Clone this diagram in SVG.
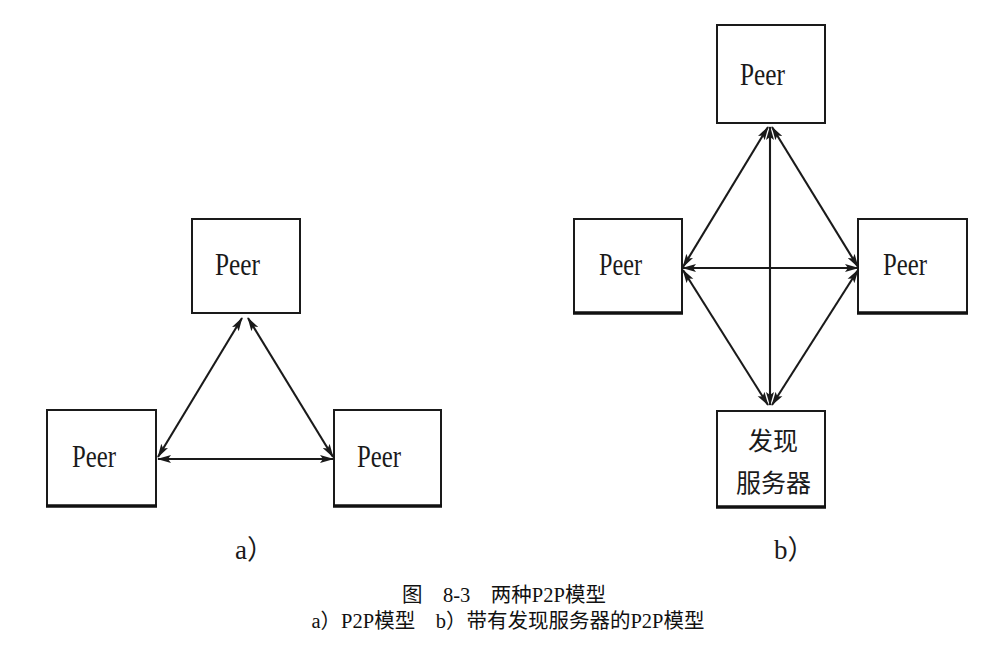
<svg xmlns="http://www.w3.org/2000/svg" width="1003" height="653" viewBox="0 0 1003 653">
<style>
.box{fill:#fff;stroke:#1a1a1a;stroke-width:2}
.base{stroke:#111;stroke-width:3.4}
.peer{font-family:"Liberation Serif",serif;font-size:31px;fill:#1a1a1a}
.cjk{font-family:"Noto Sans CJK SC",sans-serif;font-size:25px;fill:#1a1a1a}
.lbl{font-family:"Liberation Serif","Noto Sans CJK SC",serif;font-size:27px;fill:#1a1a1a}
.cap{font-family:"Liberation Serif","Noto Sans CJK SC",serif;font-size:20.5px;fill:#111}
.con line{stroke:#1a1a1a;stroke-width:2.1;marker-start:url(#ah);marker-end:url(#ah)}
</style>
<defs>
<marker id="ah" viewBox="0 0 14 9" refX="13" refY="4.5" markerWidth="14" markerHeight="9" markerUnits="userSpaceOnUse" orient="auto-start-reverse">
<path d="M0,0.5 L14,4.5 L0,8.5 L3,4.5 Z" fill="#1a1a1a"/>
</marker>
</defs>
<rect width="1003" height="653" fill="#fff"/>

<g id="a-top">
<rect class="box" x="192" y="219" width="108" height="94"/>
<text class="peer" x="215" y="275" textLength="45" lengthAdjust="spacingAndGlyphs">Peer</text>
</g>
<g id="a-left">
<rect class="box" x="47" y="410" width="109" height="96"/>
<line class="base" x1="46" y1="506" x2="157" y2="506"/>
<text class="peer" x="72" y="467" textLength="44" lengthAdjust="spacingAndGlyphs">Peer</text>
</g>
<g id="a-right">
<rect class="box" x="334" y="410" width="107" height="96"/>
<line class="base" x1="333" y1="506" x2="442" y2="506"/>
<text class="peer" x="357" y="467" textLength="44" lengthAdjust="spacingAndGlyphs">Peer</text>
</g>

<g id="b-top">
<rect class="box" x="717" y="25" width="108" height="98"/>
<text class="peer" x="740" y="85" textLength="45" lengthAdjust="spacingAndGlyphs">Peer</text>
</g>
<g id="b-left">
<rect class="box" x="574" y="219" width="108" height="94"/>
<line class="base" x1="573" y1="313" x2="683" y2="313"/>
<text class="peer" x="599" y="275" textLength="43" lengthAdjust="spacingAndGlyphs">Peer</text>
</g>
<g id="b-right">
<rect class="box" x="858" y="219" width="109" height="94"/>
<line class="base" x1="857" y1="313" x2="968" y2="313"/>
<text class="peer" x="883" y="275" textLength="44" lengthAdjust="spacingAndGlyphs">Peer</text>
</g>
<g id="b-server">
<rect class="box" x="717" y="411" width="108" height="96"/>
<line class="base" x1="716" y1="507" x2="826" y2="507"/>
<text class="cjk" x="748" y="450">发现</text>
<text class="cjk" x="736" y="492">服务器</text>
</g>

<g id="connectors" class="con">
<line x1="242" y1="318" x2="158" y2="457"/>
<line x1="248" y1="318" x2="333" y2="457"/>
<line x1="158" y1="459" x2="333" y2="459"/>
<line x1="768" y1="127" x2="683" y2="267"/>
<line x1="772" y1="127" x2="858" y2="267"/>
<line x1="683" y1="268" x2="858" y2="268"/>
<line x1="683" y1="270" x2="768" y2="405"/>
<line x1="858" y1="270" x2="772" y2="405"/>
<line x1="770" y1="127" x2="770" y2="405"/>
</g>

<text class="lbl" x="235" y="559">a）</text>
<text class="lbl" x="774" y="559">b）</text>
<text class="cap" x="504" y="602" text-anchor="middle" xml:space="preserve">图　8-3　两种P2P模型</text>
<text class="cap" x="508" y="628" text-anchor="middle" xml:space="preserve">a）P2P模型　b）带有发现服务器的P2P模型</text>
</svg>
